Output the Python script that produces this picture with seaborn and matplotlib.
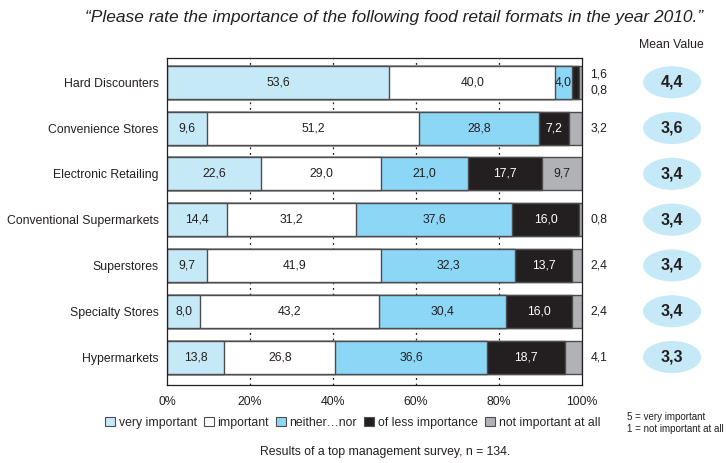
import numpy as np
import pandas as pd
import seaborn as sns
import matplotlib.pyplot as plt
from matplotlib.patches import Ellipse, Patch
from matplotlib.transforms import blended_transform_factory

# === data ===
formats = ['Hard Discounters', 'Convenience Stores', 'Electronic Retailing',
           'Conventional Supermarkets', 'Superstores', 'Specialty Stores', 'Hypermarkets']
very_important = [53.6, 9.6, 22.6, 14.4, 9.7, 8.0, 13.8]
important = [40.0, 51.2, 29.0, 31.2, 41.9, 43.2, 26.8]
neither_nor = [4.0, 28.8, 21.0, 37.6, 32.3, 30.4, 36.6]
less_importance = [1.6, 7.2, 17.7, 16.0, 13.7, 16.0, 18.7]
not_important = [0.8, 3.2, 9.7, 0.8, 2.4, 2.4, 4.1]
mean_values = [4.4, 3.6, 3.4, 3.4, 3.4, 3.4, 3.3]

series_names = ['very important', 'important', 'neither…nor', 'of less importance', 'not important at all']
series_colors = ['#c6e9f8', '#ffffff', '#8dd7f6', '#231f20', '#b1b2b5']
text_colors = ['#231f20', '#231f20', '#231f20', '#ffffff', '#231f20']

sns.set_theme(style='white')
plt.rcParams['font.family'] = ['Liberation Sans', 'DejaVu Sans']
FS = 8.8

series = [very_important, important, neither_nor, less_importance, not_important]
df = pd.DataFrame({name: vals for name, vals in zip(series_names, series)})
df['format'] = formats
cum = df[series_names].cumsum(axis=1)

fig = plt.figure(figsize=(7.27, 4.63), dpi=100)
ax = fig.add_axes([0.2297, 0.1685, 0.5709, 0.7062])

# dotted gridlines behind the bars
for xv in [20, 40, 60, 80]:
    ax.axvline(xv, color='#231f20', linestyle=(0, (1.5, 3)), linewidth=0.9, zorder=0)

# stacked bars: draw cumulative totals from the last series down to the first
for i in range(len(series_names) - 1, -1, -1):
    sns.barplot(x=cum[series_names[i]], y=df['format'], orient='h', ax=ax,
                color=series_colors[i], edgecolor='#4d4d4f', linewidth=1.0,
                width=0.72, saturation=1, zorder=2)

# segment labels
for r in range(len(formats)):
    left = 0
    for i, name in enumerate(series_names):
        v = df.loc[r, name]
        txt = f'{v:.1f}'.replace('.', ',')
        if v >= 5:
            ax.text(left + v / 2, r, txt, ha='center', va='center',
                    color=text_colors[i], fontsize=FS, zorder=3)
        left += v
    # small values shown to the right
    if r == 0:
        ax.text(97.5, 0, '4,0', ha='right', va='center', fontsize=FS, color='#231f20',
                zorder=5, clip_on=False)
        ax.text(102, -0.18, '1,6', ha='left', va='center', fontsize=FS, color='#231f20')
        ax.text(102, 0.18, '0,8', ha='left', va='center', fontsize=FS, color='#231f20')
    elif not_important[r] < 5:
        ax.text(102, r, f'{not_important[r]:.1f}'.replace('.', ','), ha='left',
                va='center', fontsize=FS, color='#231f20')

ax.set_xlim(0, 100)
ax.set_ylim(6.61, -0.53)
ax.set_xticks([0, 20, 40, 60, 80, 100])
ax.set_xticklabels(['0%', '20%', '40%', '60%', '80%', '100%'], fontsize=FS, color='#231f20')
ax.set_yticks(range(len(formats)))
ax.set_yticklabels(formats, fontsize=FS, color='#231f20')
ax.set_yticks(np.arange(0.5, 6.5, 1), minor=True)
ax.tick_params(axis='y', which='major', length=0, pad=6)
ax.tick_params(axis='y', which='minor', length=4, width=0.8, color='#231f20', direction='out')
ax.tick_params(axis='x', length=3, width=0.8, color='#231f20', direction='out', pad=5)
ax.set_xlabel('')
ax.set_ylabel('')
for s in ax.spines.values():
    s.set_color('#231f20')
    s.set_linewidth(0.9)

# mean value ellipses
trans = blended_transform_factory(ax.transAxes, ax.transData)
for r, m in enumerate(mean_values):
    ax.add_patch(Ellipse((1.217, r), 0.14, 0.70, transform=trans, facecolor='#c6e9f8',
                         edgecolor='none', clip_on=False))
    ax.text(1.217, r, f'{m:.1f}'.replace('.', ','), transform=trans, ha='center',
            va='center', fontsize=11.5, fontweight='bold', color='#231f20')

fig.text(0.924, 0.903, 'Mean Value', ha='center', va='center', fontsize=FS, color='#231f20')
fig.text(0.542, 0.962, '\u201cPlease rate the importance of the following food retail formats in the year 2010.\u201d',
         ha='center', va='center', fontsize=12.5, style='italic', color='#231f20')

handles = [Patch(facecolor=c, edgecolor='#4d4d4f', linewidth=0.8) for c in series_colors]
fig.legend(handles, series_names, loc='center', bbox_to_anchor=(0.485, 0.087), ncol=5,
           frameon=False, fontsize=FS, handlelength=0.8, handleheight=0.8,
           handletextpad=0.3, columnspacing=0.6, borderpad=0)

fig.text(0.862, 0.1, '5 = very important', ha='left', va='center', fontsize=7, color='#231f20')
fig.text(0.862, 0.073, '1 = not important at all', ha='left', va='center', fontsize=7, color='#231f20')
fig.text(0.53, 0.024, 'Results of a top management survey, n = 134.', ha='center', va='center',
         fontsize=FS, color='#231f20')

fig.savefig('out.png', dpi=100, facecolor='white')
